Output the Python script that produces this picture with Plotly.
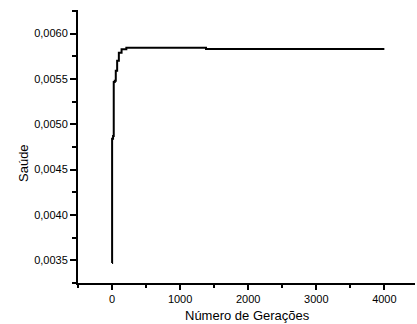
import plotly.graph_objects as go

# Data (step curve)
geracoes = [0, 1, 15, 25, 40, 55, 75, 100, 140, 210, 1380, 4000]
saude = [0.00347, 0.00484, 0.00487, 0.005465, 0.00548, 0.00559, 0.00570,
         0.00579, 0.005826, 0.005845, 0.00583, 0.00583]

y_ticks = [0.0035, 0.0040, 0.0045, 0.0050, 0.0055, 0.0060]
x_ticks = [0, 1000, 2000, 3000, 4000]

fig = go.Figure()
fig.add_trace(go.Scatter(
    x=geracoes, y=saude, mode="lines", line_shape="hv",
    line=dict(color="black", width=2), showlegend=False,
))

font = "Liberation Sans, Arial, sans-serif"
fig.update_layout(
    width=417, height=324,
    margin=dict(l=78, r=2, t=10, b=41),
    paper_bgcolor="white", plot_bgcolor="white",
    separators=",.",
    font=dict(family=font, color="black", size=11),
)
fig.update_xaxes(
    range=[-500, 4450], tickvals=x_ticks, showgrid=False, zeroline=False,
    showline=True, linecolor="black", linewidth=2,
    ticks="outside", ticklen=5, tickwidth=1.5, tickcolor="black",
    minor=dict(ticks="outside", ticklen=3, dtick=500, tick0=0, tickcolor="black", tickwidth=1.5, showgrid=False),
    tickfont=dict(size=11),
)
fig.update_yaxes(
    range=[0.00325, 0.00626], tickvals=y_ticks, tickformat=".4f",
    showgrid=False, zeroline=False,
    showline=True, linecolor="black", linewidth=2,
    ticks="outside", ticklen=6, tickwidth=1.5, tickcolor="black",
    minor=dict(ticks="outside", ticklen=4, dtick=0.0005, tick0=0.00025, tickcolor="black", tickwidth=1.5, showgrid=False),
    tickfont=dict(size=11),
)
fig.add_annotation(text="Número de Gerações", xref="paper", yref="paper",
                   x=(247 - 78) / 337, y=(283 - 315) / 273,
                   xanchor="center", yanchor="middle", showarrow=False,
                   font=dict(size=13))
fig.add_annotation(text="Saúde", xref="paper", yref="paper",
                   x=(23 - 78) / 337, y=(283 - 163) / 273, textangle=-90,
                   xanchor="center", yanchor="middle", showarrow=False,
                   font=dict(size=13))

fig.write_html("out.html")
